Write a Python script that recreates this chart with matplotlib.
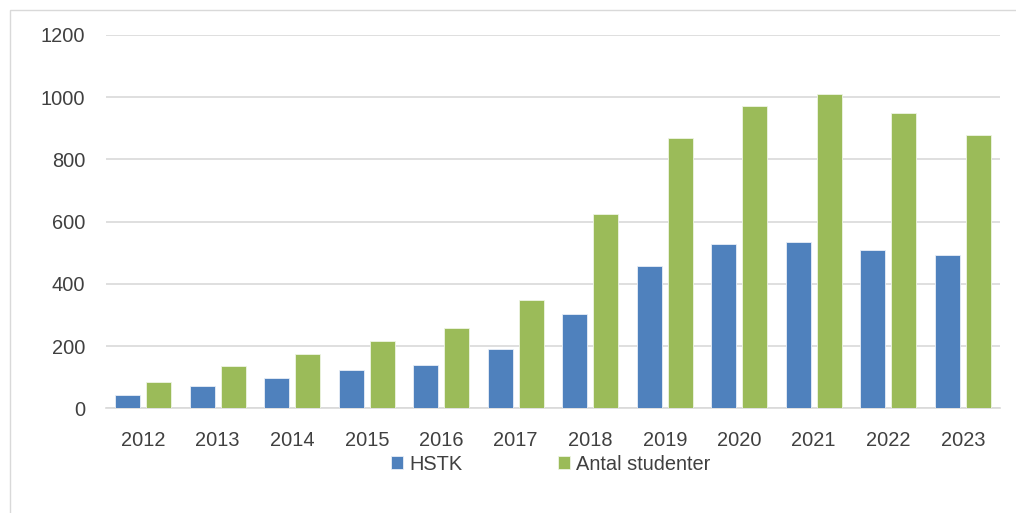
import numpy as np
from matplotlib import pyplot as plt
from matplotlib.patches import Rectangle

years = ["2012", "2013", "2014", "2015", "2016", "2017",
         "2018", "2019", "2020", "2021", "2022", "2023"]
hstk = [43, 72, 97, 124, 138, 191, 302, 457, 528, 534, 509, 492]
studenter = [84, 137, 175, 216, 257, 349, 624, 870, 972, 1010, 950, 878]

blue = "#4F81BD"
green = "#9BBB59"
grid = "#D9D9D9"
txt = "#404040"

plt.rcParams['font.family'] = ['Liberation Sans', 'DejaVu Sans']

fig = plt.figure(figsize=(10.16, 5.13), dpi=100)
# light outer frame of the chart area
fig.patches.append(Rectangle((9.5 / 1016, -0.1), 1.2, (513 - 9.5) / 513 + 0.1,
                             transform=fig.transFigure, fill=False,
                             edgecolor=grid, linewidth=1.0))

ax = fig.add_axes([106 / 1016, (513 - 408.3) / 513, 894 / 1016, 373.3 / 513])
x = np.arange(len(years))
w = 0.33
off = 0.208
ax.bar(x - off, hstk, w, color=blue, edgecolor="#e8eef7", linewidth=0.6,
       label="HSTK", zorder=3)
ax.bar(x + off, studenter, w, color=green, edgecolor="#eef4e4", linewidth=0.6,
       label="Antal studenter", zorder=3)

ax.set_xlim(-0.5, len(years) - 0.5)
ax.set_ylim(0, 1200)
ax.set_yticks(range(0, 1201, 200))
ax.set_xticks(x)
ax.set_xticklabels(years)
ax.yaxis.grid(True, color=grid, linewidth=1.2, zorder=0)
for s in ["top", "right", "left"]:
    ax.spines[s].set_visible(False)
ax.spines["bottom"].set_color(grid)
ax.spines["bottom"].set_linewidth(1.2)
ax.tick_params(axis="both", length=0, labelsize=14.4, colors=txt)
ax.tick_params(axis="x", pad=16)
ax.tick_params(axis="y", pad=15)

fig.legend(loc="center left", bbox_to_anchor=(391 / 1016, (513 - 464) / 513),
           ncol=2, frameon=False, fontsize=14.4, handlelength=0.6,
           handleheight=0.6, handletextpad=0.3, columnspacing=4.8,
           borderpad=0, borderaxespad=0, labelcolor=txt)

fig.savefig("out.png", dpi=100)
